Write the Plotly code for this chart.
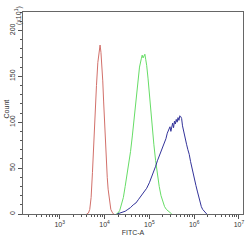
import plotly.graph_objects as go

# Histogram data: x as log10(FITC-A), y as Count (x10^1)
red_logx = [3.60, 3.64, 3.67, 3.70, 3.73, 3.76, 3.79, 3.82, 3.85, 3.88, 3.90, 3.92, 3.94,
            3.96, 3.98, 4.00, 4.02, 4.04, 4.06, 4.08, 4.10, 4.12, 4.14, 4.17, 4.20]
red_y = [0, 1, 5, 18, 45, 80, 112, 140, 165, 178, 184, 176, 162,
         145, 122, 98, 76, 56, 40, 27, 17, 10, 5, 2, 0]

green_logx = [4.26, 4.30, 4.34, 4.38, 4.42, 4.46, 4.50, 4.54, 4.58, 4.62, 4.66, 4.70, 4.74,
              4.78, 4.82, 4.84, 4.86, 4.88, 4.90, 4.92, 4.94, 4.97, 5.00, 5.03, 5.06, 5.10,
              5.14, 5.18, 5.22, 5.26, 5.30, 5.34, 5.38, 5.42, 5.46, 5.50]
green_y = [0, 1, 4, 10, 18, 30, 42, 55, 68, 85, 102, 122, 142,
           160, 169, 173, 170, 172, 174, 168, 162, 148, 130, 115, 98, 76,
           58, 42, 30, 20, 13, 8, 5, 3, 1, 0]

blue_logx = [4.28, 4.34, 4.40, 4.46, 4.52, 4.58, 4.64, 4.70, 4.76, 4.82, 4.88, 4.94, 5.00,
             5.05, 5.10, 5.14, 5.18, 5.22, 5.26, 5.30, 5.34, 5.37, 5.40, 5.43, 5.46, 5.48,
             5.50, 5.52, 5.54, 5.56, 5.58, 5.60, 5.62, 5.64, 5.66, 5.68, 5.70, 5.72, 5.74,
             5.77, 5.80, 5.83, 5.86, 5.89, 5.92, 5.95, 5.98, 6.01, 6.04, 6.07, 6.10, 6.13,
             6.16, 6.19, 6.22, 6.25, 6.28]
blue_y = [0, 1, 2, 3, 5, 7, 10, 12, 16, 20, 24, 28, 34,
          40, 46, 52, 58, 63, 68, 72, 76, 82, 88, 92, 95, 90,
          96, 99, 94, 101, 98, 103, 100, 105, 102, 107, 106, 104, 96,
          88, 82, 76, 70, 65, 57, 50, 42, 36, 31, 25, 19, 13,
          8, 5, 3, 1, 0]

x_tickvals = [1e3, 1e4, 1e5, 1e6, 1e7]
x_ticktext = ["10<sup>3</sup>", "10<sup>4</sup>", "10<sup>5</sup>", "10<sup>6</sup>", "10<sup>7</sup>"]
y_tickvals = [0, 50, 100, 150, 200]

fig = go.Figure()
for lx, ys, col in [(red_logx, red_y, "#d2706a"), (green_logx, green_y, "#66dd66"),
                    (blue_logx, blue_y, "#33339a")]:
    fig.add_trace(go.Scatter(x=[10 ** v for v in lx], y=ys, mode="lines",
                             line=dict(color=col, width=1), hoverinfo="skip"))

font = dict(family="Liberation Sans, Arial, sans-serif", size=7, color="#333")
fig.update_layout(
    width=250, height=241, margin=dict(l=23, r=6, t=12, b=23),
    paper_bgcolor="white", plot_bgcolor="white", showlegend=False, font=font,
    xaxis=dict(type="log", range=[2.18, 7.09], tickvals=x_tickvals, ticktext=x_ticktext,
               ticks="outside", ticklen=4, tickcolor="#555", showgrid=False, zeroline=False,
               showline=True, linecolor="#666", linewidth=1, mirror=True, tickfont=font,
               minor=dict(ticks="outside", ticklen=2, tickcolor="#555", dtick="D1", showgrid=False),
               title=dict(text="FITC-A", font=font, standoff=2)),
    yaxis=dict(range=[0, 220], tickvals=y_tickvals, tickangle=-90,
               ticks="outside", ticklen=4, tickcolor="#555", showgrid=False, zeroline=False,
               showline=True, linecolor="#666", linewidth=1, mirror=True, tickfont=font,
               minor=dict(ticks="outside", ticklen=2, tickcolor="#555", dtick=10, showgrid=False)),
    annotations=[
        dict(text="Count", x=-0.075, y=0.52, xref="paper", yref="paper", showarrow=False,
             textangle=-90, font=font, xanchor="center", yanchor="middle"),
        dict(text="(x10<sup>1</sup>)", x=-0.023, y=0.985, xref="paper", yref="paper",
             showarrow=False, textangle=-90, font=font, xanchor="center", yanchor="middle"),
    ],
)
fig.write_html("out.html")
